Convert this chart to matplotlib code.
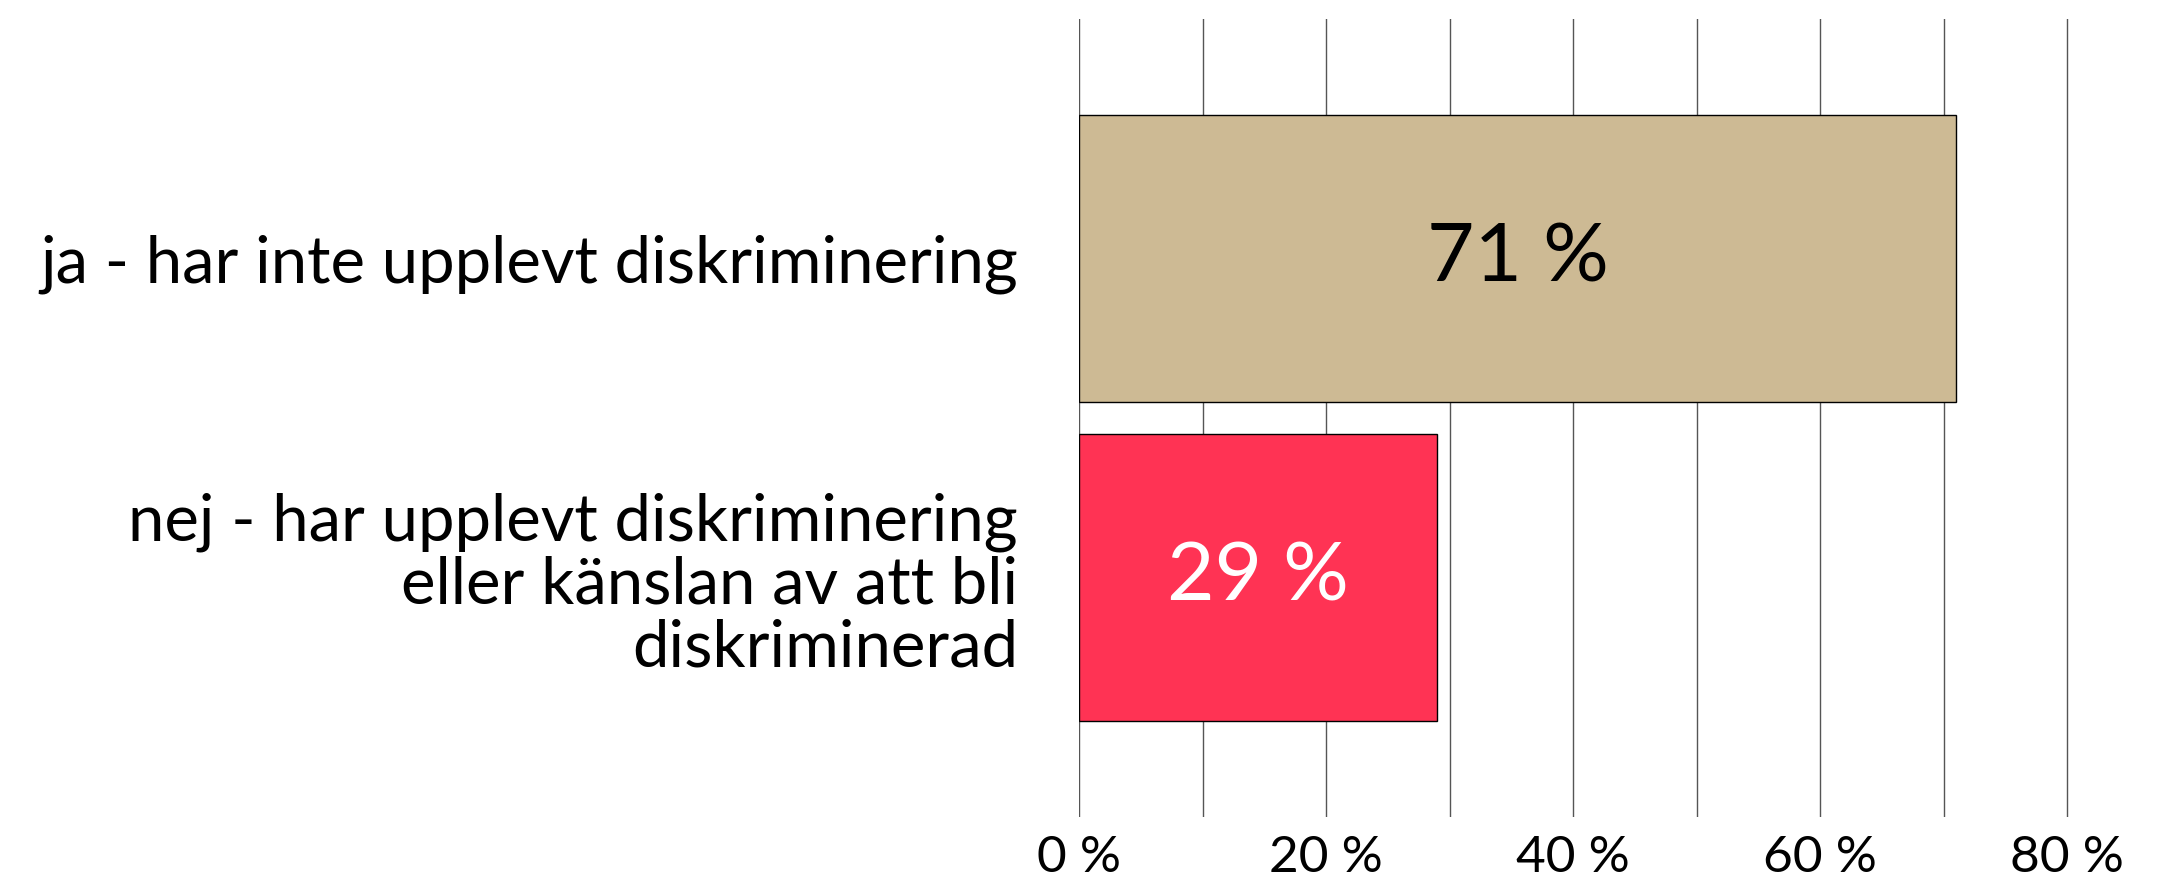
import matplotlib
matplotlib.use("Agg")
import matplotlib.pyplot as plt

categories = ["ja - har inte upplevt diskriminering",
              "nej - har upplevt diskriminering\neller känslan av att bli\ndiskriminerad"]
values = [71, 29]
bar_colors = ["#CDBA94", "#FF3354"]
label_colors = ["#000000", "#FFFFFF"]
tick_values = [0, 20, 40, 60, 80]
tick_labels = ["0 %", "20 %", "40 %", "60 %", "80 %"]

plt.rcParams['font.family'] = ['Lato', 'DejaVu Sans']

fig = plt.figure(figsize=(21.72, 8.82), dpi=100)
ax = fig.add_axes([0.4968, 0.0737, 0.9528 - 0.4968, 0.978 - 0.0737])

ypos = list(range(len(categories)))
ax.barh(ypos, values, height=0.9, color=bar_colors, edgecolor="#000000",
        linewidth=1.0, zorder=3)
for y, v, c in zip(ypos, values, label_colors):
    ax.text(v / 2, y, f"{v} %", ha="center", va="center", color=c,
            fontsize=59, zorder=4)

ax.set_xlim(0, 80.2)
ax.set_ylim(1.75, -0.75)
ax.set_xticks(tick_values)
ax.set_xticks(range(10, 80, 20), minor=True)
ax.xaxis.grid(True, which="both", color="#555555", linewidth=1.0, zorder=0)
ax.set_xticklabels(tick_labels, fontsize=37)
ax.set_yticks(ypos)
ax.set_yticklabels(categories, fontsize=47, linespacing=1.08)
ax.tick_params(axis="x", length=0, pad=13, which="both")
ax.tick_params(axis="y", length=0, pad=44)
for s in ax.spines.values():
    s.set_visible(False)
ax.set_axisbelow(True)

fig.savefig("out.png", dpi=100, facecolor="white")
